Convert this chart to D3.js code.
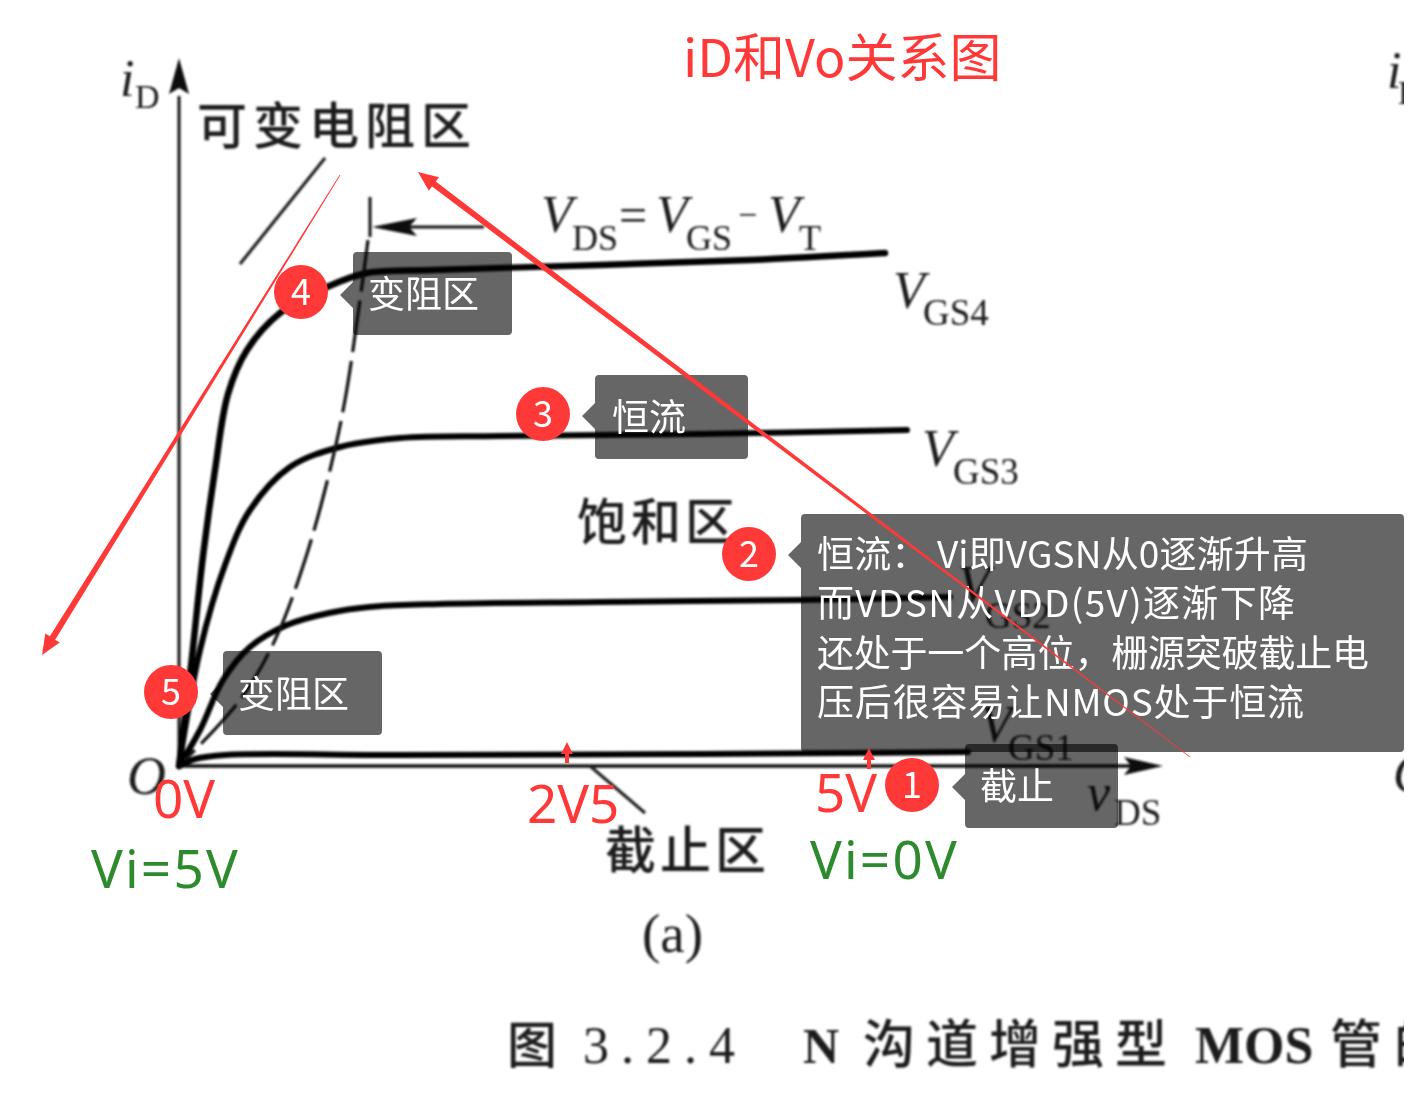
<!DOCTYPE html>
<html>
<head>
<meta charset="utf-8">
<script src="https://cdn.jsdelivr.net/npm/d3@7"></script>
<style>
  html, body { margin: 0; padding: 0; background: #fff; }
  svg { display: block; }
  text { font-family: "Noto Sans CJK SC", "Noto Sans", sans-serif; }
  .serif text, text.serif { font-family: "Liberation Serif", "DejaVu Serif", serif; }
</style>
</head>
<body>
<div id="chart"></div>
<script>
// values are in the picture's own axis units (the axes carry no numeric scale)
const vgs4Vds = [0, 12, 24, 36, 49, 68, 101, 148, 188, 254, 421, 571, 706];
const vgs4Id = [0, 100, 210, 296, 372, 416, 453, 479, 493, 496, 501, 506, 513];
const vgs3Vds = [0, 21, 46, 71, 111, 161, 221, 321, 521, 728];
const vgs3Id = [0, 116, 201, 256, 299, 319, 328, 330, 332, 336];
const vgs2Vds = [0, 21, 44, 71, 108, 150, 190, 260, 421, 621, 771];
const vgs2Id = [0, 36, 86, 119, 141, 153, 159, 162, 164, 166, 169];
const vgs1Vds = [0, 16, 46, 221, 521, 789];
const vgs1Id = [0, 7, 11, 11, 12, 14];
const boundaryVds = [189, 181, 166, 151, 126, 96, 61, 6];
const boundaryId = [526, 466, 366, 296, 206, 126, 66, 6];

const curveNames = ["GS4", "GS3", "GS2", "GS1"];
const xTickValues = [388, 690];

const badgeLabels = ["4", "3", "2", "5", "1"];
const tipLines = [["变阻区"], ["恒流"],
  ["恒流： Vi即VGSN从0逐渐升高", "而VDSN从VDD(5V)逐渐下降", "还处于一个高位，栅源突破截止电", "压后很容易让NMOS处于恒流"],
  ["变阻区"], ["截止"]];

const width = 1409, height = 1094;
const red = "#ff3838", green = "#2d8a2d", tipFill = "#666";

const x = d3.scaleLinear().domain([0, 1000]).range([179, 1179]);
const y = d3.scaleLinear().domain([0, 710]).range([766, 56]);

const svg = d3.select("#chart").append("svg")
  .attr("width", width).attr("height", height);

const defs = svg.append("defs");
defs.append("filter").attr("id", "scan").attr("x", "-5%").attr("y", "-5%")
  .attr("width", "110%").attr("height", "110%")
  .append("feGaussianBlur").attr("stdDeviation", 0.8);
defs.append("clipPath").attr("id", "page").append("rect")
  .attr("width", 1404).attr("height", height);

// everything from the scanned figure sits in one slightly blurred group
const scan = svg.append("g").attr("filter", "url(#scan)").attr("clip-path", "url(#page)");

const xAxis = d3.axisBottom(x).tickValues([]).tickSizeOuter(0);
const yAxis = d3.axisLeft(y).tickValues([]).tickSizeOuter(0);
scan.append("g").attr("transform", `translate(0,${y(0)})`).call(xAxis)
  .select(".domain").attr("stroke", "#111").attr("stroke-width", 3.5)
  .attr("d", `M${x(0)},0H${x(975)}`);
scan.append("g").attr("transform", `translate(${x(0)},0)`).call(yAxis)
  .select(".domain").attr("stroke", "#111").attr("stroke-width", 3)
  .attr("d", `M0,${y(0)}V${y(670)}`);

// axis arrow heads
scan.append("path").attr("fill", "#111")
  .attr("d", `M${x(0)},${y(708)}L${x(0) + 10},${y(672)}L${x(0)},${y(678)}L${x(0) - 10},${y(672)}Z`);
scan.append("path").attr("fill", "#111")
  .attr("d", `M${x(984)},${y(0)}L${x(945)},${y(0) + 9}L${x(952)},${y(0)}L${x(945)},${y(0) - 9}Z`);

const line = d3.line().x(d => x(d[0])).y(d => y(d[1])).curve(d3.curveCatmullRom);
const curves = [[vgs4Vds, vgs4Id, 6.5], [vgs3Vds, vgs3Id, 6], [vgs2Vds, vgs2Id, 6], [vgs1Vds, vgs1Id, 6]];
scan.selectAll(".curve").data(curves).join("path")
  .attr("class", "curve")
  .attr("fill", "none").attr("stroke", "#050505").attr("stroke-width", d => d[2])
  .attr("stroke-linecap", "round")
  .attr("d", d => line(d3.zip(d[0], d[1])));

scan.append("path").attr("fill", "none").attr("stroke", "#111")
  .attr("stroke-width", 3.2).attr("stroke-dasharray", "52 9")
  .attr("d", line(d3.zip(boundaryVds, boundaryId)));

// leader lines in the scan
const leaders = [[[146, 608], [61, 502]], [[411, 0], [466, -47]]];
scan.selectAll(".leader").data(leaders).join("line").attr("class", "leader")
  .attr("x1", d => x(d[0][0])).attr("y1", d => y(d[0][1]))
  .attr("x2", d => x(d[1][0])).attr("y2", d => y(d[1][1]))
  .attr("stroke", "#222").attr("stroke-width", 3.2);

// the V_DS = V_GS - V_T marker with its small arrow
scan.append("line").attr("x1", x(191)).attr("x2", x(191)).attr("y1", y(569)).attr("y2", y(529))
  .attr("stroke", "#111").attr("stroke-width", 3);
scan.append("line").attr("x1", x(305)).attr("x2", x(210)).attr("y1", y(539)).attr("y2", y(539))
  .attr("stroke", "#111").attr("stroke-width", 3);
scan.append("path").attr("fill", "#111")
  .attr("d", `M${x(193)},${y(539)}L${x(238)},${y(539) - 9}L${x(230)},${y(539)}L${x(238)},${y(539) + 9}Z`);

function scanText(sel, str, px, py, size, opts) {
  opts = opts || {};
  return sel.append("text").attr("x", px).attr("y", py).attr("font-size", size)
    .attr("fill", opts.fill || "#1c1c1c")
    .attr("class", opts.cjk ? null : "serif")
    .attr("font-style", opts.italic ? "italic" : null)
    .attr("font-weight", opts.weight || (opts.cjk ? 500 : null))
    .attr("letter-spacing", opts.spacing || null)
    .text(str);
}

scanText(scan, "i", 120, 96, 52, {italic: true});
scanText(scan, "D", 135, 108, 34);
scanText(scan, "O", 127, 794, 54, {italic: true});
scanText(scan, "可变电阻区", 197, 144, 50, {cjk: true, spacing: 6});
scanText(scan, "饱和区", 577, 540, 50, {cjk: true, spacing: 4});
scanText(scan, "截止区", 605, 869, 51, {cjk: true, spacing: 4});
scanText(scan, "(a)", 642, 952, 55);
scanText(scan, "图", 507, 1063, 50, {cjk: true});
scanText(scan, "3.2.4", 583, 1063, 52, {spacing: 12});
scanText(scan, "N", 803, 1063, 50, {weight: 700});
scanText(scan, "沟道增强型", 863, 1063, 52, {cjk: true, spacing: 11});
scanText(scan, "MOS", 1195, 1063, 52, {weight: 700});
scanText(scan, "管的", 1330, 1063, 52, {cjk: true, spacing: 12});
scanText(scan, "i", 1387, 88, 52, {italic: true});
scanText(scan, "D", 1398, 104, 34);
scanText(scan, "O", 1393, 792, 54, {italic: true});

// V_DS = V_GS - V_T label
scanText(scan, "V", 541, 232, 52, {italic: true});
scanText(scan, "DS", 572, 250, 36);
scanText(scan, "=", 619, 232, 50);
scanText(scan, "V", 656, 232, 52, {italic: true});
scanText(scan, "GS", 686, 250, 36);
scanText(scan, "−", 738, 226, 34);
scanText(scan, "V", 768, 232, 52, {italic: true});
scanText(scan, "T", 799, 250, 36);

// curve names
const namePos = [[893, 308, 923, 325], [922, 466, 953, 484], [958, 602, 985, 628], [980, 742, 1008, 760]];
curveNames.forEach((n, i) => {
  scanText(scan, "V", namePos[i][0], namePos[i][1], 52, {italic: true});
  scanText(scan, n, namePos[i][2], namePos[i][3], 37);
});

scanText(scan, "v", 1087, 810, 52, {italic: true});
scanText(scan, "DS", 1114, 825, 37);

// dark tip boxes, multiplied so the scan still shows through them
const tipBoxes = [[353, 252, 159, 83, 295], [595, 375, 153, 84, 416], [801, 514, 603, 238, 555], [223, 651, 159, 84, 694], [965, 744, 153, 84, 787]];
const tips = svg.append("g");
tips.selectAll("path").data(tipBoxes).join("path")
  .attr("fill", tipFill).style("mix-blend-mode", "multiply")
  .attr("d", d => {
    const [l, t, w, h, py] = d, r = 4, b = t + h;
    return `M${l + r},${t}H${l + w - r}Q${l + w},${t} ${l + w},${t + r}V${b - r}Q${l + w},${b} ${l + w - r},${b}H${l + r}Q${l},${b} ${l},${b - r}V${py + 13}L${l - 13},${py}L${l},${py - 13}V${t + r}Q${l},${t} ${l + r},${t}Z`;
  });

// text of each tip, the long box is stretched line by line to its measured widths
const tipTextPos = [[368, 308], [612, 431], [817, 568], [238, 708], [980, 800]];
const longTipWidths = [491, 478, 552, 487];
tipLines.forEach((lines, i) => {
  lines.forEach((str, j) => {
    svg.append("text").attr("x", tipTextPos[i][0]).attr("y", tipTextPos[i][1] + j * 49.3)
      .attr("font-size", 37).attr("fill", "#fff")
      .attr("textLength", lines.length > 1 ? longTipWidths[j] : null)
      .attr("lengthAdjust", lines.length > 1 ? "spacing" : null)
      .text(str);
  });
});

// numbered badges
const badgePos = [[301, 292], [543, 414], [749, 554], [171, 692], [912, 785]];
const badges = svg.selectAll(".badge").data(badgeLabels).join("g").attr("class", "badge")
  .attr("transform", (d, i) => `translate(${badgePos[i][0]},${badgePos[i][1]})`);
badges.append("circle").attr("r", 27).attr("fill", red);
badges.append("text").attr("text-anchor", "middle").attr("y", 13).attr("font-size", 36)
  .attr("fill", "#fff").text(d => d);

// tapered red arrows drawn over the figure
const arrowEnds = [[[161, 591], [-137, 111]], [[1011, 9], [239, 594]]];
function tapered(tail, head) {
  const tx = x(tail[0]), ty = y(tail[1]), hx = x(head[0]), hy = y(head[1]);
  const len = Math.hypot(hx - tx, hy - ty), ux = (hx - tx) / len, uy = (hy - ty) / len;
  const nx = -uy, ny = ux;
  const nk = 20, sw = 3.1, hw = 8.5, tw = 0.4;
  const bx = hx - ux * nk, by = hy - uy * nk;
  return `M${tx + nx * tw},${ty + ny * tw}L${bx + nx * sw},${by + ny * sw}L${bx + nx * hw},${by + ny * hw}L${hx},${hy}L${bx - nx * hw},${by - ny * hw}L${bx - nx * sw},${by - ny * sw}L${tx - nx * tw},${ty - ny * tw}Z`;
}
svg.selectAll(".arrow").data(arrowEnds).join("path").attr("class", "arrow")
  .attr("fill", red).attr("d", d => tapered(d[0], d[1]));

// small red markers on the axis
svg.selectAll(".marker").data(xTickValues).join("path").attr("class", "marker")
  .attr("fill", red)
  .attr("d", (d, i) => {
    const cx = x(d), top = y(0) - (i ? 18 : 24);
    return `M${cx},${top}L${cx + 6},${top + 12}L${cx + 2},${top + 12}V${top + 21}H${cx - 2}V${top + 12}L${cx - 6},${top + 12}Z`;
  });

// red voltage labels and green input labels
const redLabels = [["0V", 153, 818], ["2V5", 527, 823], ["5V", 815, 812]];
svg.selectAll(".vlabel").data(redLabels).join("text").attr("class", "vlabel")
  .attr("x", d => d[1]).attr("y", d => d[2]).attr("font-size", 53)
  .style("font-family", '"Noto Sans", sans-serif')
  .attr("fill", red).text(d => d[0]);
const greenLabels = [["Vi=5V", 91, 888], ["Vi=0V", 810, 879]];
svg.selectAll(".ilabel").data(greenLabels).join("text").attr("class", "ilabel")
  .attr("x", d => d[1]).attr("y", d => d[2]).attr("font-size", 53)
  .attr("letter-spacing", 2.2)
  .style("font-family", '"Noto Sans", sans-serif')
  .attr("fill", green).text(d => d[0]);

svg.append("text").attr("x", 683).attr("y", 77).attr("font-size", 52)
  .attr("fill", red).text("iD和Vo关系图");
</script>
</body>
</html>
